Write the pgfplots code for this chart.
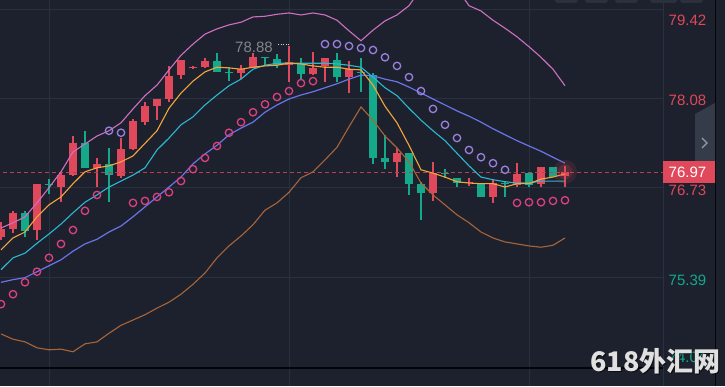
\documentclass[border=0pt]{standalone}
\usepackage{fontspec}
\setmainfont{Liberation Sans}
\newfontfamily\cjk{Noto Sans CJK SC}
\usepackage{pgfplots}
\pgfplotsset{compat=1.18}
\usepackage{pgfplotstable}
\definecolor{bg}{HTML}{1C212D}
\definecolor{gridc}{HTML}{2A313E}
\definecolor{cRed}{HTML}{E0485B}
\definecolor{cGreen}{HTML}{13A98A}
\definecolor{cOrange}{HTML}{F5A53A}
\definecolor{cCyan}{HTML}{2DB7D3}
\definecolor{cBlue}{HTML}{6874E8}
\definecolor{cUp}{HTML}{CF6FC1}
\definecolor{cLo}{HTML}{A9653A}
\definecolor{cSarP}{HTML}{E0407F}
\definecolor{cSarV}{HTML}{9B80E0}
\definecolor{dashred}{HTML}{B8404F}
\definecolor{tabc}{HTML}{353B48}
\definecolor{btnc}{HTML}{2B313C}

\pgfplotstableread{
i o h l c
0 75.99 76.22 75.95 76.12
1 76.12 76.39 76.05 76.36
3 76.10 76.80 75.95 76.80
5 76.75 76.96 76.52 76.93
6 76.93 77.52 76.92 77.41
8 77.04 77.19 76.75 77.10
10 76.92 77.49 76.89 77.32
11 77.32 77.78 77.31 77.75
12 77.73 78.04 77.69 77.97
13 77.97 78.08 77.76 78.08
14 78.08 78.58 78.04 78.43
15 78.44 78.67 78.38 78.67
16 78.55 78.58 78.53 78.56
17 78.56 78.70 78.55 78.65
20 78.47 78.59 78.38 78.53
21 78.55 78.78 78.55 78.71
24 78.59 78.88 78.34 78.64
26 78.46 78.79 78.44 78.55
27 78.58 78.70 78.34 78.70
29 78.41 78.65 78.17 78.53
33 77.13 77.34 76.90 77.26
36 76.66 77.13 76.54 76.96
39 76.81 76.89 76.77 76.83
41 76.60 76.87 76.51 76.81
43 76.78 77.11 76.75 76.95
45 76.80 77.05 76.75 77.05
47 76.92 77.07 76.75 76.97
}\redtab

\pgfplotstableread{
i o h l c
2 76.36 76.39 75.99 76.09
4 76.80 76.87 76.64 76.78
7 77.41 77.60 77.04 77.04
9 77.10 77.34 76.52 76.93
18 78.65 78.78 78.49 78.49
19 78.49 78.56 78.35 78.47
22 78.71 78.71 78.58 78.70
23 78.68 78.76 78.55 78.59
25 78.62 78.70 78.37 78.46
28 78.67 78.78 78.34 78.41
30 78.49 78.70 78.19 78.47
31 78.44 78.47 77.10 77.19
32 77.19 77.54 77.02 77.13
34 77.26 77.26 76.63 76.80
35 76.80 76.83 76.25 76.66
37 76.96 77.02 76.88 76.95
38 76.89 76.89 76.75 76.81
40 76.80 76.80 76.60 76.60
42 76.81 76.84 76.60 76.80
44 76.96 76.96 76.75 76.78
46 77.05 77.05 76.90 76.90
}\greentab

\pgfplotstableread{
i ma1 ma2 ma3 up lo
0 75.80 75.50 75.31 76.13 74.53
1 75.98 75.68 75.35 76.21 74.45
2 76.07 75.75 75.38 76.30 74.41
3 76.30 75.90 75.47 76.51 74.32
4 76.48 76.04 75.56 76.74 74.29
5 76.60 76.19 75.65 76.98 74.30
6 76.80 76.36 75.78 77.28 74.26
7 76.98 76.52 75.89 77.40 74.38
8 77.04 76.63 75.96 77.52 74.41
9 77.07 76.75 76.07 77.60 74.54
10 77.13 76.84 76.16 77.72 74.66
11 77.22 76.93 76.30 77.93 74.74
12 77.41 77.04 76.45 78.13 74.82
13 77.60 77.31 76.60 78.29 74.92
14 77.94 77.49 76.75 78.52 75.01
15 78.17 77.69 76.90 78.74 75.13
16 78.35 77.81 77.10 78.91 75.28
17 78.49 77.99 77.25 79.06 75.45
18 78.56 78.14 77.38 79.14 75.68
19 78.55 78.28 77.54 79.20 75.86
20 78.53 78.38 77.64 79.24 76.01
21 78.56 78.53 77.73 79.32 76.18
22 78.58 78.59 77.88 79.33 76.40
23 78.59 78.62 77.99 79.36 76.51
24 78.62 78.62 78.08 79.38 76.67
25 78.61 78.62 78.14 79.35 76.89
26 78.58 78.62 78.19 79.38 76.98
27 78.56 78.62 78.25 79.35 77.16
28 78.56 78.61 78.31 79.27 77.35
29 78.53 78.59 78.38 79.11 77.66
30 78.52 78.56 78.44 78.96 77.96
31 78.29 78.41 78.43 79.12 77.76
32 77.97 78.25 78.38 79.26 77.52
33 77.72 78.13 78.34 79.35 77.34
34 77.38 77.94 78.26 79.49 77.13
35 77.01 77.76 78.17 79.75 76.81
36 76.96 77.60 78.08 79.85 76.63
37 76.90 77.45 77.99 79.85 76.48
38 76.83 77.26 77.90 79.75 76.33
39 76.81 77.07 77.82 79.49 76.21
40 76.80 76.90 77.73 79.41 76.07
41 76.80 76.86 77.63 79.27 75.98
42 76.75 76.83 77.54 79.15 75.92
43 76.80 76.81 77.45 79.02 75.89
44 76.80 76.81 77.37 78.87 75.86
45 76.87 76.84 77.29 78.71 75.84
46 76.90 76.84 77.20 78.53 75.87
47 76.95 76.84 77.11 78.28 75.98
}\linetab

\pgfplotstableread{
i v
0 74.98
1 75.13
2 75.31
3 75.47
4 75.68
5 75.89
6 76.10
7 76.39
8 76.63
11 76.51
12 76.54
13 76.60
14 76.67
15 76.84
16 77.02
17 77.19
18 77.37
19 77.57
20 77.73
21 77.88
22 78.00
23 78.11
24 78.20
25 78.32
26 78.35
43 76.51
44 76.52
45 76.52
46 76.54
47 76.55
}\sarpink

\pgfplotstableread{
i v
9 77.60
10 77.57
27 78.91
28 78.91
29 78.88
30 78.85
31 78.82
32 78.71
33 78.58
34 78.41
35 78.20
36 77.93
37 77.69
38 77.49
39 77.31
40 77.20
41 77.11
42 77.01
}\sarpurple

\begin{document}
\begin{tikzpicture}[x=1pt,y=1pt]
\fill[bg] (0,0) rectangle (725,386);
% grid
\begin{scope}[gridc, line width=1pt]
\foreach \yy in {376,287,198,109} \draw (0,\yy) -- (663,\yy);
\foreach \xx in {49,289,529,663} \draw (\xx,0) -- (\xx,386);
\end{scope}

\begin{axis}[at={(0,0)}, anchor=south west, scale only axis,
  width=725pt, height=386pt,
  xmin=-0.08333, xmax=60.3333, ymin=73.743, ymax=79.576,
  hide axis, clip=true]

% glow on last candle (drawn under candle)
\addplot[only marks, draw=none, mark=*, mark size=12pt, mark options={draw opacity=0, fill=cRed, fill opacity=0.13}] coordinates {(47,76.98)};
\addplot[only marks, draw=none, mark=*, mark size=7.5pt, mark options={draw opacity=0, fill=cRed, fill opacity=0.2}] coordinates {(47,76.98)};

% wicks
\addplot[draw=none, mark=none, forget plot,
  error bars/.cd, y dir=plus, y explicit, error mark=none,
  error bar style={draw=cRed, line width=1.3pt}]
  table[x=i, y=l, y error plus expr={\thisrow{h}-\thisrow{l}}] {\redtab};
\addplot[draw=none, mark=none, forget plot,
  error bars/.cd, y dir=plus, y explicit, error mark=none,
  error bar style={draw=cGreen, line width=1.3pt}]
  table[x=i, y=l, y error plus expr={\thisrow{h}-\thisrow{l}}] {\greentab};
% bodies
\addplot[draw=none, mark=none, forget plot,
  error bars/.cd, y dir=plus, y explicit, error mark=none,
  error bar style={draw=cRed, line width=8.5pt}]
  table[x=i, y=o, y error plus expr={max(\thisrow{c}-\thisrow{o},0.016)}] {\redtab};
\addplot[draw=none, mark=none, forget plot,
  error bars/.cd, y dir=plus, y explicit, error mark=none,
  error bar style={draw=cGreen, line width=8.5pt}]
  table[x=i, y=c, y error plus expr={max(\thisrow{o}-\thisrow{c},0.016)}] {\greentab};

% current price dashed line
\addplot[dashred, line width=0.8pt, dash pattern=on 4pt off 3pt, mark=none] coordinates {(-1,76.97) (55.17,76.97)};

% lines
\addplot[cLo, line width=1.1pt, mark=none] table[x=i, y=lo] {\linetab};
\addplot[cUp, line width=1.1pt, mark=none] table[x=i, y=up] {\linetab};
\addplot[cBlue, line width=1.2pt, mark=none] table[x=i, y=ma3] {\linetab};
\addplot[cCyan, line width=1.1pt, mark=none] table[x=i, y=ma2] {\linetab};
\addplot[cOrange, line width=1.1pt, mark=none] table[x=i, y=ma1] {\linetab};

% SAR
\addplot[only marks, mark=o, mark size=3.7pt, mark options={draw=cSarP, line width=1.3pt}] table[x=i, y=v] {\sarpink};
\addplot[only marks, mark=o, mark size=3.7pt, mark options={draw=cSarV, line width=1.3pt}] table[x=i, y=v] {\sarpurple};
\end{axis}

% bottom line and right separator
\draw[black!85!bg, line width=1.3pt] (0,18) -- (663,18);
\draw[black!85!bg, line width=1.3pt] (715.5,0) -- (715.5,386);

% top buttons
\foreach \a/\b in {555/578,585/608,615/638,650/677,680/703}
  \fill[btnc, rounded corners=3pt] (\a,383) rectangle (\b,392);

% high label
\node[anchor=center, inner sep=0, text=black!35!white!75!bg, font=\fontsize{15}{18}\selectfont] at (254,339) {78.88};
\draw[white!80!bg, line width=0.9pt, dash pattern=on 1pt off 1.6pt] (278,342) -- (291,342);

% right tab
\fill[tabc] (695,272) -- (715,283) -- (715,203) -- (695,203) -- cycle;
\draw[white!55!bg, line width=1.3pt] (702,248) -- (707,243) -- (702,238);

% price labels
\begin{scope}[every node/.style={anchor=west, inner sep=0, font=\fontsize{15}{18}\selectfont}]
\node[text=cRed] at (668.5,366) {79.42};
\node[text=cRed] at (668.5,286) {78.08};
\node[text=cRed] at (668.5,196) {76.73};
\node[text=cGreen] at (668.5,106) {75.39};
\node[text=cGreen] at (668.5,29) {74.04};
\fill[cRed] (663,203) rectangle (715,225);
\node[text=white] at (668.5,214) {76.97};
\end{scope}

% watermark
\node[inner sep=0, text=black, opacity=0.6, font=\cjk\bfseries\fontsize{27}{28}\selectfont] at (656.5,24) {618外汇网};
\node[inner sep=0, text=white!88!black, font=\cjk\bfseries\fontsize{27}{28}\selectfont] at (655.5,25) {618外汇网};

\pgfresetboundingbox
\useasboundingbox (0,0) rectangle (725,386);
\end{tikzpicture}
\end{document}
